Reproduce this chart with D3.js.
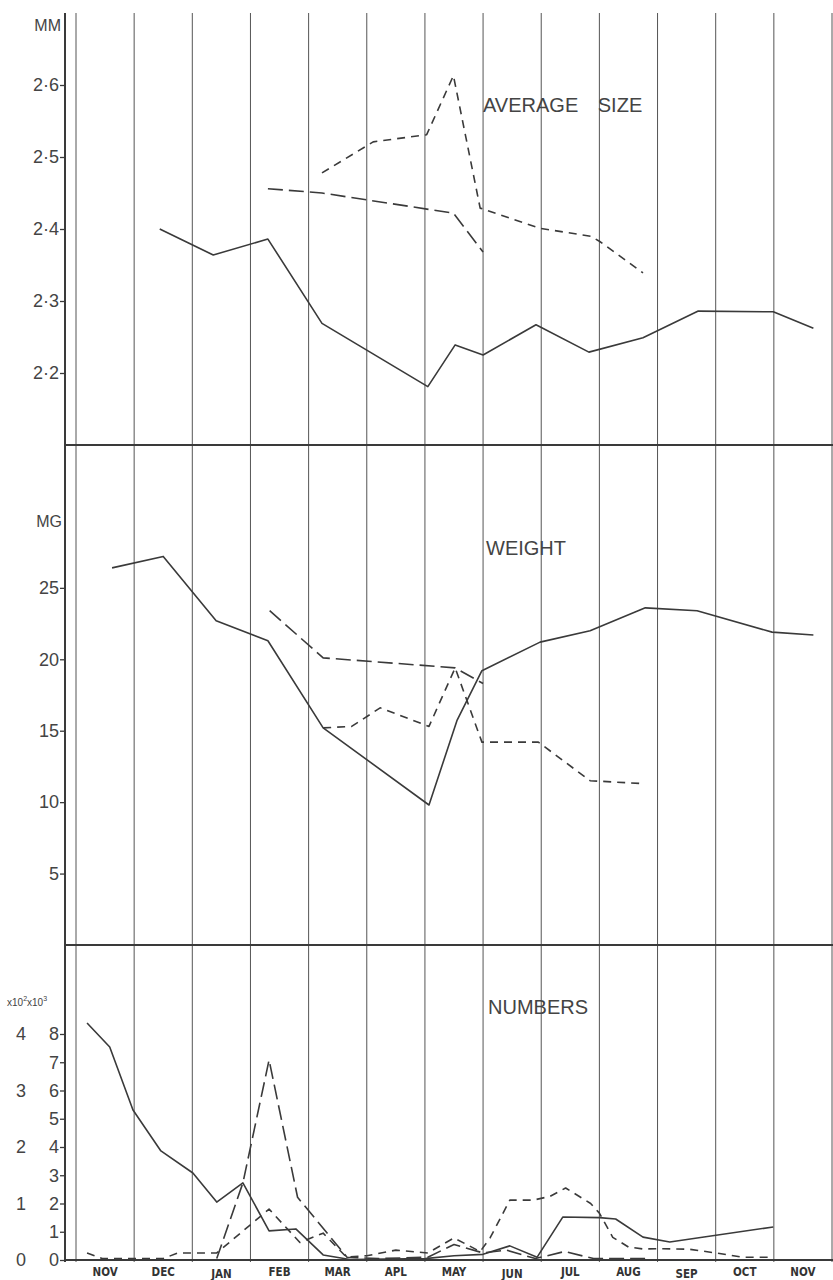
<!DOCTYPE html>
<html>
<head>
<meta charset="utf-8">
<script src="https://cdn.jsdelivr.net/npm/d3@7"></script>
<style>
  body { margin: 0; background: #fff; }
  svg { display: block; font-family: "Liberation Sans", Arial, sans-serif; }
</style>
</head>
<body>
<div class="chart"></div>
<script>
// month columns, Nov to Nov
const months = ["NOV", "DEC", "JAN", "FEB", "MAR", "APL", "MAY", "JUN", "JUL", "AUG", "SEP", "OCT", "NOV"];

// [month position, value]
const sizeSolid = [[1.44, 2.40], [2.36, 2.364], [3.30, 2.386], [4.23, 2.269], [6.05, 2.181], [6.52, 2.239], [7.0, 2.225],
  [7.91, 2.267], [8.82, 2.229], [9.75, 2.249], [10.70, 2.286], [11.99, 2.285], [12.68, 2.262]];
const sizeLongDash = [[3.30, 2.456], [4.23, 2.450], [6.49, 2.422], [7.0, 2.368]];
const sizeShortDash = [[4.23, 2.478], [5.11, 2.521], [6.03, 2.531], [6.49, 2.613], [6.95, 2.429], [7.98, 2.401],
  [8.85, 2.39], [9.0, 2.383], [9.75, 2.339]];
const sizeTicks = [2.2, 2.3, 2.4, 2.5, 2.6];

const weightSolid = [[0.62, 26.4], [1.50, 27.2], [2.41, 22.7], [3.30, 21.3], [4.25, 15.2], [6.07, 9.8], [6.55, 15.7],
  [6.98, 19.2], [7.98, 21.2], [8.84, 22.0], [9.79, 23.6], [10.68, 23.4], [11.97, 21.9], [12.68, 21.7]];
const weightLongDash = [[3.33, 23.4], [4.25, 20.1], [6.52, 19.4], [7.0, 18.3]];
const weightShortDash = [[4.25, 15.2], [4.74, 15.3], [5.23, 16.6], [6.07, 15.3], [6.52, 19.4], [6.98, 14.2],
  [7.95, 14.2], [8.84, 11.5], [9.75, 11.3]];
const weightTicks = [5, 10, 15, 20, 25];

// numbers in x10^3 (right hand scale)
const numSolid = [[0.19, 8.39], [0.58, 7.54], [0.98, 5.31], [1.46, 3.86], [2.01, 3.08], [2.42, 2.05], [2.87, 2.73],
  [3.32, 1.03], [3.78, 1.10], [4.25, 0.18], [4.71, 0.02], [6.0, 0.05], [6.5, 0.15], [7.0, 0.2], [7.46, 0.5],
  [7.93, 0.1], [8.37, 1.52], [9.0, 1.50], [9.28, 1.45], [9.75, 0.81], [10.21, 0.64], [11.99, 1.17]];
const numLongDash = [[2.42, 0.05], [2.87, 2.73], [3.32, 7.08], [3.81, 2.22], [4.66, 0.1], [5.2, 0.05], [6.05, 0.1],
  [6.5, 0.55], [7.0, 0.25], [7.4, 0.35], [7.9, 0.05], [8.4, 0.3], [8.9, 0.05], [9.8, 0.05]];
const numShortDash = [[0.19, 0.25], [0.45, 0.05], [1.5, 0.05], [1.75, 0.25], [2.42, 0.25], [3.32, 1.8], [3.85, 0.62],
  [4.25, 0.95], [4.65, 0.1], [5.0, 0.15], [5.5, 0.35], [6.05, 0.25], [6.5, 0.78], [6.95, 0.3], [7.12, 0.78],
  [7.46, 2.12], [7.86, 2.12], [8.15, 2.25], [8.42, 2.55], [8.85, 2.0], [9.0, 1.66], [9.23, 0.8], [9.5, 0.46],
  [9.75, 0.39], [10.1, 0.4], [10.55, 0.38], [11.0, 0.25], [11.45, 0.1], [11.99, 0.1]];
const numTicksRight = [0, 1, 2, 3, 4, 5, 6, 7, 8];
const numTicksLeft = [0, 1, 2, 3, 4];

const width = 833;
const height = 1280;
const ink = "#3a3a3a";

const svg = d3.select(".chart").append("svg")
  .attr("width", width)
  .attr("height", height);

svg.append("rect").attr("width", width).attr("height", height).attr("fill", "#fff");

const x = d3.scaleLinear().domain([0, 13]).range([76, 832]);
const ySize = d3.scaleLinear().domain([2.1, 2.7]).range([445, 13]);
const yWeight = d3.scaleLinear().domain([0, 35]).range([945, 445]);
const yNum = d3.scaleLinear().domain([0, 11.15]).range([1260, 945]);
const yNumLeft = d3.scaleLinear().domain([0, 5.575]).range([1260, 945]);

const axisX = 65;
const gridTop = 13;
const gridBottom = yNum(0) + 2;

// vertical month lines
svg.append("g")
  .selectAll("line")
  .data(d3.range(0, 14))
  .enter()
  .append("line")
  .attr("x1", (d) => x(d))
  .attr("x2", (d) => x(d))
  .attr("y1", gridTop)
  .attr("y2", gridBottom)
  .attr("stroke", "#555")
  .attr("stroke-width", 1);

// left axis line
svg.append("line")
  .attr("x1", axisX).attr("x2", axisX)
  .attr("y1", gridTop).attr("y2", gridBottom)
  .attr("stroke", ink).attr("stroke-width", 2);

// panel separators
[ySize(2.1), yWeight(0), yNum(0)].forEach((yy) => {
  svg.append("line")
    .attr("x1", axisX).attr("x2", width)
    .attr("y1", yy).attr("y2", yy)
    .attr("stroke", ink).attr("stroke-width", 2);
});

function styleAxis(g, size) {
  g.select(".domain").remove();
  g.selectAll(".tick line").attr("stroke", ink).attr("stroke-width", 1.3);
  g.selectAll(".tick text")
    .attr("fill", "#444")
    .style("font-size", size + "px")
    .style("font-family", "'Liberation Sans', Arial, sans-serif");
}

// y axes
svg.append("g")
  .attr("transform", `translate(${axisX},0)`)
  .call(d3.axisLeft(ySize).tickValues(sizeTicks).tickSize(5).tickPadding(1)
    .tickFormat((d) => d3.format(".1f")(d).replace(".", "·")))
  .call((g) => styleAxis(g, 18));

svg.append("g")
  .attr("transform", `translate(${axisX},0)`)
  .call(d3.axisLeft(yWeight).tickValues(weightTicks).tickSize(5).tickPadding(1))
  .call((g) => styleAxis(g, 18));

svg.append("g")
  .attr("transform", `translate(${axisX},0)`)
  .call(d3.axisLeft(yNum).tickValues(numTicksRight).tickSize(5).tickPadding(1))
  .call((g) => styleAxis(g, 18));

svg.append("g")
  .selectAll("text")
  .data(numTicksLeft)
  .enter()
  .append("text")
  .attr("x", 21)
  .attr("y", (d) => yNumLeft(d))
  .attr("dy", "0.36em")
  .attr("text-anchor", "middle")
  .attr("fill", "#444")
  .style("font-size", "18px")
  .text((d) => d);

// unit labels
svg.append("text").attr("x", 61).attr("y", 31).attr("text-anchor", "end")
  .attr("fill", "#444").style("font-size", "16px").text("MM");
svg.append("text").attr("x", 62).attr("y", 527).attr("text-anchor", "end")
  .attr("fill", "#444").style("font-size", "16px").text("MG");

const unit = svg.append("text").attr("x", 7).attr("y", 1006)
  .attr("fill", "#444").style("font-size", "10px");
unit.append("tspan").text("x10");
unit.append("tspan").attr("dy", -5).style("font-size", "7px").text("2");
unit.append("tspan").attr("dy", 5).text("x10");
unit.append("tspan").attr("dy", -5).style("font-size", "7px").text("3");

// panel titles
svg.append("text").attr("x", 483).attr("y", 112).attr("fill", "#444")
  .style("font-size", "20px").style("word-spacing", "14px").text("AVERAGE SIZE");
svg.append("text").attr("x", 486).attr("y", 555).attr("fill", "#444")
  .style("font-size", "20px").text("WEIGHT");
svg.append("text").attr("x", 488).attr("y", 1014).attr("fill", "#444")
  .style("font-size", "20px").text("NUMBERS");

// month labels
svg.append("g")
  .selectAll("text")
  .data(months)
  .enter()
  .append("text")
  .attr("x", (d, i) => x(i + 0.5))
  .attr("y", (d, i) => ([2, 7, 10].includes(i) ? 1278 : 1276))
  .attr("text-anchor", "middle")
  .attr("fill", "#333")
  .style("font-family", "'DejaVu Sans Condensed', 'DejaVu Sans', sans-serif")
  .style("font-weight", "bold")
  .style("font-size", "11.5px")
  .text((d) => d);

// data lines
const dashes = { solid: null, long: "15,6", short: "8,6" };

function drawLine(data, yScale, dash) {
  const line = d3.line().x((d) => x(d[0])).y((d) => yScale(d[1]));
  svg.append("path")
    .attr("d", line(data))
    .attr("fill", "none")
    .attr("stroke", ink)
    .attr("stroke-width", 1.6)
    .attr("stroke-linejoin", "round")
    .attr("stroke-dasharray", dash);
}

drawLine(sizeSolid, ySize, dashes.solid);
drawLine(sizeLongDash, ySize, dashes.long);
drawLine(sizeShortDash, ySize, dashes.short);

drawLine(weightSolid, yWeight, dashes.solid);
drawLine(weightLongDash, yWeight, dashes.long);
drawLine(weightShortDash, yWeight, dashes.short);

drawLine(numSolid, yNum, dashes.solid);
drawLine(numLongDash, yNum, dashes.long);
drawLine(numShortDash, yNum, dashes.short);
</script>
</body>
</html>
